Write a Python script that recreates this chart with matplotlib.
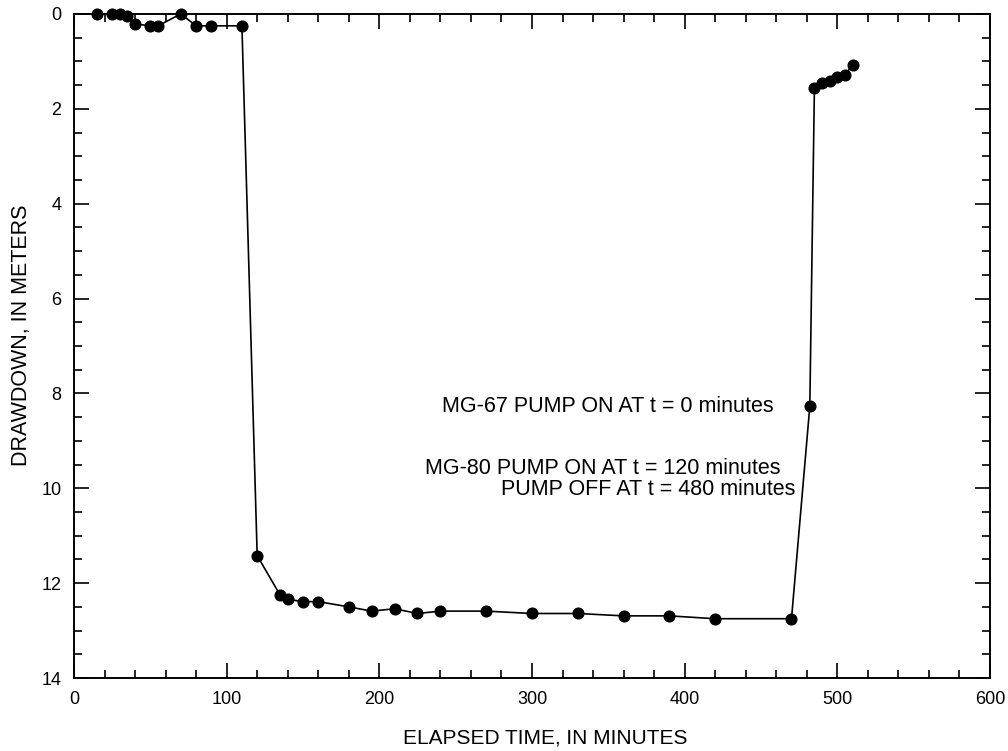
"""
Drawdown in observation well during MG-67 / MG-80 pumping test.
"""
import matplotlib
matplotlib.use("Agg")
import matplotlib.pyplot as plt
from matplotlib.ticker import MultipleLocator

plt.rcParams["font.family"] = ["Liberation Sans", "DejaVu Sans"]

# elapsed time (minutes) and drawdown (meters)
elapsed_min = [15, 25, 30, 35, 40, 50, 55, 70, 80, 90, 110,
               120, 135, 140, 150, 160, 180, 195, 210, 225, 240,
               270, 300, 330, 360, 390, 420, 470,
               482, 485, 490, 495, 500, 505, 510]
drawdown_m = [0.0, 0.0, 0.0, 0.05, 0.21, 0.25, 0.25, 0.0, 0.25, 0.25, 0.25,
              11.42, 12.25, 12.34, 12.39, 12.39, 12.50, 12.59, 12.54, 12.64, 12.59,
              12.59, 12.64, 12.64, 12.69, 12.69, 12.75, 12.75,
              8.27, 1.57, 1.46, 1.41, 1.32, 1.29, 1.07]

notes = [
    (241, 8.27, "MG-67 PUMP ON AT t = 0 minutes"),
    (230, 9.58, "MG-80 PUMP ON AT t = 120 minutes"),
    (280, 10.02, "PUMP OFF AT t = 480 minutes"),
]

fig = plt.figure(figsize=(10.08, 7.51), dpi=100)
ax = fig.add_axes([0.0734, 0.0972, 0.9087, 0.8842])

ax.plot(elapsed_min, drawdown_m, color="black", linewidth=1.2,
        marker="o", markersize=7.7, clip_on=False, zorder=3)

ax.set_xlim(0, 600)
ax.set_ylim(14, 0)
ax.xaxis.set_major_locator(MultipleLocator(100))
ax.xaxis.set_minor_locator(MultipleLocator(20))
ax.yaxis.set_major_locator(MultipleLocator(2))
ax.yaxis.set_minor_locator(MultipleLocator(0.5))
ax.tick_params(which="both", direction="in", top=True, right=True,
               labelsize=13, width=1.2, pad=9)
ax.tick_params(which="major", length=11)
ax.tick_params(which="minor", length=5.5)
for s in ax.spines.values():
    s.set_linewidth(1.4)

ax.set_xlabel("ELAPSED TIME, IN MINUTES", fontsize=15)
ax.xaxis.set_label_coords(0.514, -0.076)
ax.set_ylabel("DRAWDOWN, IN METERS", fontsize=15.5)
ax.yaxis.set_label_coords(-0.046, 0.516)

for x, y, txt in notes:
    ax.text(x, y, txt, fontsize=15.5, ha="left", va="center")

fig.savefig("out.png", dpi=100)
